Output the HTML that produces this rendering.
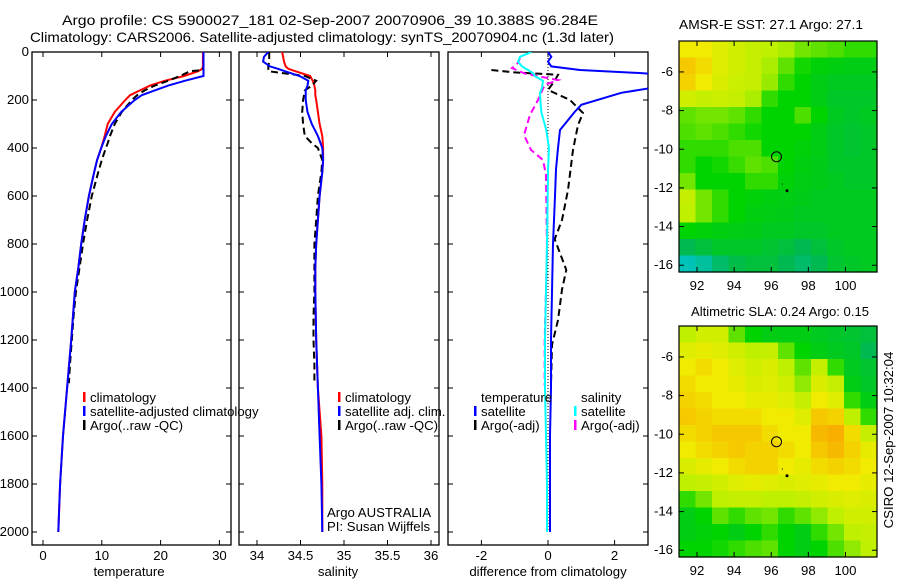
<!DOCTYPE html>
<html><head><meta charset="utf-8">
<style>
html,body{margin:0;padding:0;background:#fff;}
svg{display:block;font-family:"Liberation Sans",sans-serif;}
text{font-size:13.2px;fill:#000;}
</style></head>
<body>
<svg id="fig" width="900" height="580" viewBox="0 0 900 580" xmlns="http://www.w3.org/2000/svg">
<text x="62" y="25" textLength="536" lengthAdjust="spacingAndGlyphs" style="font-size:14px">Argo profile: CS 5900027_181 02-Sep-2007 20070906_39 10.388S 96.284E</text>
<text x="30" y="42" textLength="584" lengthAdjust="spacingAndGlyphs" style="font-size:14px">Climatology: CARS2006. Satellite-adjusted climatology: synTS_20070904.nc (1.3d later)</text>
<text x="679" y="29" textLength="184" lengthAdjust="spacingAndGlyphs">AMSR-E SST: 27.1 Argo: 27.1</text>
<text x="691" y="316" textLength="178" lengthAdjust="spacingAndGlyphs">Altimetric SLA: 0.24 Argo: 0.15</text>
<text transform="translate(893,440) rotate(-90)" text-anchor="middle">CSIRO 12-Sep-2007 10:32:04</text>
<defs>
<clipPath id="c1"><rect x="32" y="52" width="199" height="493"/></clipPath>
<clipPath id="c2"><rect x="239" y="52" width="200" height="493"/></clipPath>
<clipPath id="c3"><rect x="448" y="52" width="200" height="493"/></clipPath>
</defs>
<g id="layer"></g>
</svg>
<script>
// ---- Profile data ----
const climDepth = [0,20,40,60,70,80,100,120,140,160,180,200,250,300,350,400,450,500,600,700,800,900,1000,1200,1400,1600,1800,2000];
const tempClim  = [27.2,27.2,27.2,27.2,27.1,26.4,24,20.7,18.2,16.5,14.8,14,12.2,11,10.5,9.9,9.2,8.7,7.8,7.1,6.5,6,5.4,4.8,4.1,3.4,2.9,2.6];
const tempSat   = [27.3,27.3,27.3,27.3,27.3,27.3,27.3,24.1,21.3,19,16.8,15.6,13.3,11.7,10.7,9.9,9.2,8.7,7.8,7.1,6.5,6,5.4,4.8,4.1,3.4,2.9,2.6];
const salClim   = [34.29,34.3,34.31,34.33,34.36,34.44,34.61,34.64,34.66,34.67,34.67,34.68,34.7,34.72,34.75,34.76,34.76,34.75,34.72,34.7,34.68,34.67,34.67,34.68,34.7,34.74,34.75,34.75];
const salSat    = [34.13,34.08,34.07,34.15,34.24,34.32,34.49,34.59,34.58,34.56,34.56,34.56,34.58,34.63,34.7,34.75,34.76,34.75,34.72,34.7,34.68,34.67,34.67,34.68,34.7,34.72,34.74,34.75];
const argoDepth = [0,20,40,60,75,80,100,120,140,160,180,200,250,300,350,380,400,450,500,600,700,800,900,1000,1100,1200,1300,1380];
const tempArgo  = [27.3,27.3,27.3,27.3,27.2,25,23.3,21.3,19,17.3,16,15.1,13.4,12.2,11.4,11,10.7,10,9.4,8.3,7.5,6.8,6.2,5.6,5.2,4.9,4.6,4.4];
const salArgo   = [34.14,34.14,34.14,34.13,34.13,34.13,34.55,34.68,34.63,34.55,34.54,34.53,34.52,34.53,34.55,34.63,34.7,34.75,34.74,34.7,34.68,34.66,34.66,34.66,34.65,34.65,34.66,34.66];
// differences from climatology
const diffDepth    = [0,20,40,60,75,88,100,120,150,170,220,250,325,400,490,600,800,1000,1200,1400,1600,1800,2000];
const diffTempSat  = [0,0.1,0,0.1,0.96,2.8,4,4,3.1,2.2,1,0.8,0.36,0.3,0.24,0.21,0.15,0.12,0.09,0.09,0.06,0.06,0.06];
const diffSalSat   = [-0.5,-0.84,-0.9,-0.78,-0.6,-0.45,-0.4,-0.15,-0.18,-0.24,-0.22,-0.2,-0.05,0.03,0,-0.01,-0.03,-0.06,-0.09,-0.09,-0.06,-0.03,-0.03];
const diffArgoDepth = [75,85,95,120,158,200,254,304,408,575,700,780,908,990,1117,1220,1390];
const diffTempArgo  = [-1.7,-1.0,0.3,0.2,0,0.66,1.05,0.9,0.75,0.6,0.42,0.2,0.55,0.42,0.3,0.12,0.09];
const diffSalArgoDepth = [25,45,67,90,117,137,200,262,346,408,450,512,825,1200,1390];
const diffSalArgo   = [-0.84,-0.9,-1.08,-0.7,0.3,-0.1,-0.3,-0.54,-0.72,-0.51,-0.15,-0.06,-0.03,-0.1,-0.1];
// ticks
const depthTicks = [0,200,400,600,800,1000,1200,1400,1600,1800,2000];
const tempTicks = [0,10,20,30];
const salTicks = [34,34.5,35,35.5,36];
const salTickLabels = ["34","34.5","35","35.5","36"];
const diffTicks = [-2,0,2];
// maps
const lonTicks = [92,94,96,98,100];
const latTicks = [-6,-8,-10,-12,-14,-16];
const sstGrid = [
[.85,.85,.8,.75,.72,.7,.68,.62,.6,.58,.55,.55],
[.92,.88,.8,.75,.72,.68,.6,.52,.48,.46,.45,.45],
[.9,.85,.78,.74,.72,.66,.55,.5,.45,.42,.42,.42],
[.75,.72,.74,.72,.68,.55,.5,.5,.45,.4,.4,.4],
[.6,.62,.62,.6,.55,.5,.5,.58,.5,.42,.4,.42],
[.58,.6,.58,.55,.52,.5,.5,.5,.45,.4,.38,.4],
[.55,.55,.55,.58,.58,.5,.5,.48,.45,.4,.38,.4],
[.55,.5,.52,.56,.6,.58,.5,.46,.44,.4,.4,.4],
[.62,.5,.5,.5,.55,.55,.48,.45,.44,.42,.4,.4],
[.72,.62,.55,.5,.48,.46,.45,.44,.42,.42,.42,.42],
[.7,.62,.55,.5,.46,.45,.44,.42,.42,.42,.42,.42],
[.5,.48,.46,.45,.44,.42,.42,.4,.4,.42,.42,.42],
[.3,.35,.4,.4,.4,.38,.35,.3,.35,.4,.42,.42],
[.1,.15,.25,.32,.35,.35,.3,.25,.3,.38,.4,.42]];
const slaGrid = [
[.7,.75,.75,.6,.5,.45,.45,.45,.42,.4,.38,.35],
[.8,.82,.8,.75,.7,.72,.6,.5,.45,.42,.4,.3],
[.85,.88,.85,.8,.75,.78,.7,.6,.72,.55,.42,.38],
[.88,.85,.85,.82,.78,.8,.75,.65,.78,.72,.45,.4],
[.9,.88,.85,.85,.82,.82,.8,.72,.85,.8,.55,.45],
[.92,.9,.88,.88,.88,.85,.85,.8,.92,.9,.7,.55],
[.88,.9,.92,.92,.92,.88,.85,.85,.95,.97,.88,.72],
[.85,.88,.9,.92,.9,.9,.88,.85,.92,.95,.9,.82],
[.78,.82,.85,.88,.9,.9,.85,.82,.88,.9,.88,.85],
[.7,.72,.75,.8,.82,.8,.78,.8,.82,.85,.85,.82],
[.55,.62,.7,.72,.72,.7,.7,.72,.75,.78,.8,.78],
[.45,.5,.6,.55,.6,.62,.55,.6,.65,.7,.75,.75],
[.45,.48,.5,.45,.5,.55,.5,.45,.55,.62,.7,.72],
[.5,.5,.52,.55,.58,.6,.5,.45,.5,.58,.65,.7]];
const floatLon = 96.284, floatLat = -10.388;
const dotLon = [96.85, 96.6], dotLat = [-12.15, -11.8];

const NS = "http://www.w3.org/2000/svg";
const layer = document.getElementById('layer');
function mk(tag, attrs, parent){ const e=document.createElementNS(NS,tag); for(const k in attrs) e.setAttribute(k,attrs[k]); (parent||layer).appendChild(e); return e; }

const yD = d => 52 + d*0.24;
const xT = t => 43 + t*5.88;
const xS = s => 257 + (s-34)*87;
const xDf = v => 548 + v*33.3;

function frame(x0,x1,name){
  const r = mk('rect',{x:x0,y:52,width:x1-x0,height:493,fill:'none',stroke:'#000','stroke-width':1.3});
  
  
}
function line(xs, ds, fx, color, w, dash, clip, name){
  const pts = xs.map((v,i)=> fx(v).toFixed(1)+','+yD(ds[i]).toFixed(1)).join(' ');
  const p = mk('polyline',{points:pts,fill:'none',stroke:color,'stroke-width':w,'clip-path':'url(#'+clip+')'});
  if(dash) p.setAttribute('stroke-dasharray',dash);
  
  
}
function xticks(vals, labels, fx){
  vals.forEach((v,i)=>{
    const x=fx(v);
    mk('line',{x1:x,y1:545,x2:x,y2:540,stroke:'#000'});
    mk('line',{x1:x,y1:52,x2:x,y2:57,stroke:'#000'});
    const t=mk('text',{x:x,y:560,'text-anchor':'middle'}); t.textContent=labels[i];
    
    
  });
}
function yticks(x0,x1,labels){
  depthTicks.forEach(d=>{
    const y=yD(d);
    mk('line',{x1:x0,y1:y,x2:x0+5,y2:y,stroke:'#000'});
    mk('line',{x1:x1,y1:y,x2:x1-5,y2:y,stroke:'#000'});
    if(labels){ const t=mk('text',{x:x0-3,y:y+4,'text-anchor':'end'}); t.textContent=d;
      
       }
  });
}
function label(x,y,s,name,anchor){ const t=mk('text',{x:x,y:y,'text-anchor':anchor||'start'}); t.textContent=s;
  
   return t; }
function marker(x,y,color,name){ const r=mk('rect',{x:x,y:y-6,width:2.5,height:10,fill:color});
  
   }

// Panel 1 temperature
frame(32,231,'temperature-panel');
yticks(32,231,true);
xticks(tempTicks, tempTicks.map(String), xT);
line(tempClim, climDepth, xT, '#f00', 2, null, 'c1', 'temp-climatology-line');
line(tempArgo, argoDepth, xT, '#000', 2, '7,4', 'c1', 'temp-argo-line');
line(tempSat, climDepth, xT, '#00f', 2, null, 'c1', 'temp-satellite-line');
label(129,576,'temperature','temperature-axis-title','middle');
marker(83,398,'#f00','legend-marker-climatology'); label(90,402,'climatology','legend-climatology');
marker(83,412,'#00f','legend-marker-satellite'); label(90,416,'satellite-adjusted climatology','legend-satellite-adjusted');
marker(83,426,'#000','legend-marker-argo'); label(90,430,'Argo(..raw -QC)','legend-argo');

// Panel 2 salinity
frame(239,439,'salinity-panel');
yticks(239,439,false);
xticks(salTicks, salTickLabels, xS);
line(salClim, climDepth, xS, '#f00', 2, null, 'c2', 'sal-climatology-line');
line(salArgo, argoDepth, xS, '#000', 2, '7,4', 'c2', 'sal-argo-line');
line(salSat, climDepth, xS, '#00f', 2, null, 'c2', 'sal-satellite-line');
label(338,576,'salinity','salinity-axis-title','middle');
marker(338,398,'#f00','legend-marker-sal-climatology'); label(345,402,'climatology','legend-sal-climatology');
marker(338,412,'#00f','legend-marker-sal-satellite'); label(345,416,'satellite adj. clim.','legend-sal-satellite');
marker(338,426,'#000','legend-marker-sal-argo'); label(345,430,'Argo(..raw -QC)','legend-sal-argo');
label(327,517,'Argo AUSTRALIA','argo-australia-note');
label(327,531,'PI: Susan Wijffels','pi-note');

// Panel 3 differences
frame(448,648,'difference-panel');
yticks(448,648,false);
xticks(diffTicks, diffTicks.map(String), xDf);
const zl = mk('line',{x1:xDf(0),y1:52,x2:xDf(0),y2:yD(2000),stroke:'#000','stroke-width':1,'stroke-dasharray':'1,2'});
 
line(diffTempArgo, diffArgoDepth, xDf, '#000', 2, '7,4', 'c3', 'diff-temp-argo-line');
line(diffSalArgo, diffSalArgoDepth, xDf, '#f0f', 2, '7,4', 'c3', 'diff-sal-argo-line');
line(diffTempSat, diffDepth, xDf, '#00f', 2, null, 'c3', 'diff-temp-satellite-line');
line(diffSalSat, diffDepth, xDf, '#0ff', 2, null, 'c3', 'diff-sal-satellite-line');
label(548,576,'difference from climatology','difference-axis-title','middle');
label(481,402,'temperature','legend-temperature-heading');
marker(474,412,'#00f','legend-marker-temp-sat'); label(481,416,'satellite','legend-temp-satellite');
marker(474,426,'#000','legend-marker-temp-argo'); label(481,430,'Argo(-adj)','legend-temp-argo');
label(581,402,'salinity','legend-salinity-heading');
marker(574,412,'#0ff','legend-marker-sal-sat'); label(581,416,'satellite','legend-sal-sat');
marker(574,426,'#f0f','legend-marker-sal-argo2'); label(581,430,'Argo(-adj)','legend-sal-argo-adj');

// Maps
const stops = [[0,[0,200,235]],[0.3,[0,185,80]],[0.5,[0,212,0]],[0.7,[190,240,0]],[0.85,[240,235,0]],[1,[250,160,0]]];
function cmap(v){
  for(let i=1;i<stops.length;i++){ if(v<=stops[i][0]){ const a=stops[i-1],b=stops[i]; const f=(v-a[0])/(b[0]-a[0]);
    return 'rgb('+a[1].map((c,j)=>Math.round(c+(b[1][j]-c)*f)).join(',')+')'; } }
  return 'rgb(250,160,0)';
}
function drawMap(top, grid, name){
  const L=679, R=877, B=top+231;
  const lonMin=91.03, lonMax=101.7, latMax=-4.4, latMin=-16.35;
  const mx = lo => L + (lo-lonMin)/(lonMax-lonMin)*(R-L);
  const my = la => top + (latMax-la)/(latMax-latMin)*(B-top);
  const g = mk('g',{});
  
  
  const rows=grid.length, cols=grid[0].length;
  const cw=(R-L)/cols, ch=(B-top)/rows;
  grid.forEach((row,r)=>row.forEach((v,c)=>{
    const cell=mk('rect',{x:(L+c*cw).toFixed(2),y:(top+r*ch).toFixed(2),width:(cw+0.6).toFixed(2),height:(ch+0.6).toFixed(2),fill:cmap(v)},g);
    
    
  }));
  const fr=mk('rect',{x:L,y:top,width:R-L,height:B-top,fill:'none',stroke:'#000','stroke-width':1.2});
   
  lonTicks.forEach(lo=>{ const x=mx(lo);
    mk('line',{x1:x,y1:B,x2:x,y2:B-5,stroke:'#000'}); mk('line',{x1:x,y1:top,x2:x,y2:top+5,stroke:'#000'});
    label(x,B+18,String(lo),'lon-tick-label','middle'); });
  latTicks.forEach(la=>{ const y=my(la);
    mk('line',{x1:L,y1:y,x2:L+5,y2:y,stroke:'#000'}); mk('line',{x1:R,y1:y,x2:R-5,y2:y,stroke:'#000'});
    label(L-6,y+4,String(la),'lat-tick-label','end'); });
  const c=mk('circle',{cx:mx(floatLon),cy:my(floatLat),r:5,fill:'none',stroke:'#000','stroke-width':1});
   
  dotLon.forEach((lo,i)=>{ const d=mk('circle',{cx:mx(lo),cy:my(dotLat[i]),r:i===0?1.5:0.6,fill:'#000'});
      });
}
drawMap(41, sstGrid, 'sst-map');
drawMap(326, slaGrid, 'sla-map');
</script>
</body></html>
